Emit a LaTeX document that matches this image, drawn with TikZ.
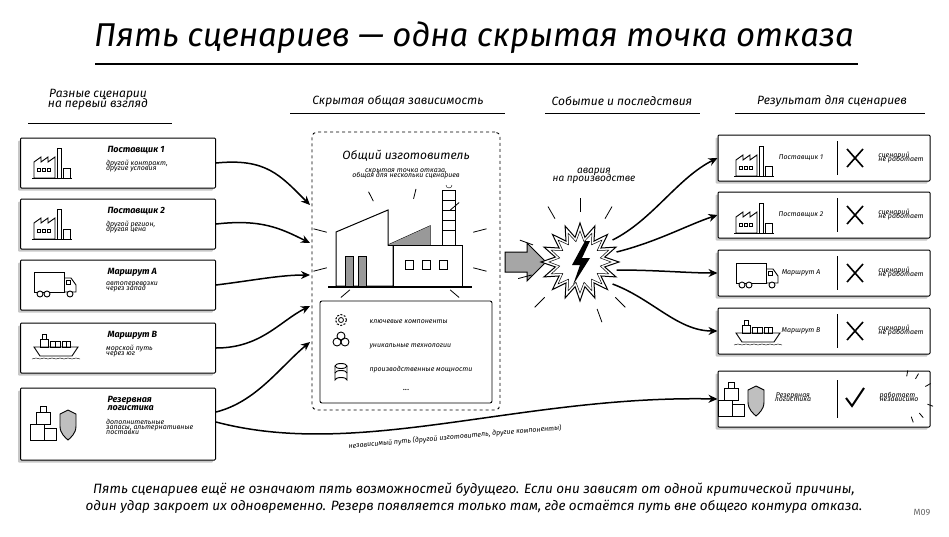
\documentclass[tikz,border=0pt]{standalone}
\usepackage{fontspec}
\setmainfont{Fira Sans}
\usetikzlibrary{arrows.meta,shapes.geometric,positioning,calc}

\tikzset{
  card/.style={draw,line width=1pt,fill=white,rounded corners=1pt,
    preaction={fill=black!22,transform canvas={xshift=-2.5pt,yshift=-2.5pt}}},
  head/.style={font=\itshape\large,align=center},
  uline/.style={line width=.9pt},
  flow/.style={-{Stealth[length=9pt,width=8pt]},line width=1.5pt},
  ico/.style={line width=.9pt},
  ray/.style={line width=.8pt},
  pics/factory/.style={code={
    \draw[ico] (0,30)--(0,14)--(7,9)--(7,14)--(14,9)--(14,14)--(21,9)--(21,30)--cycle;
    \draw[ico] (23,30) rectangle (27,0);
    \draw[ico] (29,30) rectangle (36,20);
    \foreach \x in {3,8,13} \draw (\x,20) rectangle ++(3,3);
    \draw[ico] (-2,30)--(38,30);
  }},
  pics/truck/.style={code={
    \draw[ico] (0,2) rectangle (30,22);
    \draw[ico] (30,8)--(37,8)--(42,15)--(42,22)--(30,22);
    \draw (32,10) rectangle (36,14);
    \foreach \x in {6,13,36} \draw[ico,fill=white] (\x,24) circle (3);
  }},
  pics/ship/.style={code={
    \draw[ico] (0,14)--(44,14)--(38,23)--(6,23)--cycle;
    \draw[ico] (6,14) rectangle (14,6) (8,6) rectangle (12,1);
    \draw[ico] (16,14) rectangle (26,8) (28,14) rectangle (36,8);
    \draw (21,8)--(21,14) (32,8)--(32,14);
    \draw (-2,26) sin (2,25) cos (6,26) sin (10,25) cos (14,26) sin (18,25) cos (22,26) sin (26,25) cos (30,26) sin (34,25) cos (38,26) sin (42,25) cos (46,26);
  }},
  pics/stock/.style={code={
    \draw[ico] (0,18) rectangle (14,34) (14,22) rectangle (26,34) (6,6) rectangle (20,18) (10,0) rectangle (16,6);
    \draw[ico,fill=black!25] (30,8)--(38,4)--(46,8)--(46,20) .. controls (46,28) and (40,32) .. (38,34) .. controls (36,32) and (30,28) .. (30,20)--cycle;
  }},
}

\begin{document}
\begin{tikzpicture}[x=1pt,y=-1pt]
  \useasboundingbox (0,0) rectangle (949,536);
  % title
  \node[font=\itshape\fontsize{33}{36}\selectfont] (title) at (474,38) {Пять сценариев — одна скрытая точка отказа};
  \draw[line width=1.4pt] (95,64)--(858,64);

  % column heads
  \node[head] (h1) at (98,100) {Разные сценарии\\[-4pt]на первый взгляд};
  \draw[uline] (28,123)--(172,123);
  \node[head] (h2) at (398,101) {Скрытая общая зависимость};
  \draw[uline] (290,113)--(505,113);
  \node[head] (h3) at (622,101) {Событие и последствия};
  \draw[uline] (545,113)--(700,113);
  \node[head] (h4) at (832,101) {Результат для сценариев};
  \draw[uline] (735,113)--(925,113);

  % left scenarios
  \foreach \n/\y/\ic/\t/\a/\b in {1/163/factory/Поставщик 1/{другой контракт,}/{другие условия},
      2/224/factory/Поставщик 2/{другой регион,}/{другая цена},
      3/285/truck/Маршрут A/автоперевозки/через запад,
      4/348/ship/Маршрут B/морской путь/через юг}{
    \node[card,minimum width=195pt,minimum height=50pt] (l\n) at (118,\y) {};
    \pic at (34,\y-15) {\ic};
    \node[anchor=west,font=\itshape\small\bfseries] at (104,\y-13) {\t};
    \node[anchor=north west,align=left,font=\itshape\scriptsize,inner sep=1pt] at (105,\y-4) {\a\\[-3pt]\b};
  }
  \node[card,minimum width=195pt,minimum height=72pt] (l5) at (118,424) {};
  \pic at (30,406) {stock};
  \node[anchor=west,align=left,font=\itshape\small\bfseries] at (104,403) {Резервная\\[-3pt]логистика};
  \node[anchor=north west,align=left,font=\itshape\scriptsize,inner sep=1pt] at (105,418) {дополнительные\\[-3pt]запасы, альтернативные\\[-3pt]поставки};

  % common manufacturer
  \node[draw,dashed,line width=.9pt,rounded corners=5pt,minimum width=188pt,minimum height=278pt] (common) at (406,271) {};
  \node[font=\itshape\large] (ctitle) at (406,156) {Общий изготовитель};
  \node[font=\itshape\scriptsize,align=center,below=0pt of ctitle] (csub) {скрытая точка отказа,\\[-3pt]общая для нескольки сценариев};
  \draw[line width=1pt,fill=white] (336,286)--(336,232)--(388,210)--(388,245)--(430,226)--(430,245)--(393,245)--(393,286)--cycle;
  \fill[black!40] (388,245)--(430,226)--(430,245)--cycle;
  \draw[line width=1pt] (393,245)--(393,286) (388,245)--(393,245);
  \draw[line width=1pt,fill=white] (393,245) rectangle (462,286);
  \draw[line width=1pt,fill=white] (442,190) rectangle (455,245);
  \foreach \yy in {200,210,220,230} \draw (442,\yy)--(455,\yy);
  \draw (446,185) arc (180:0:3);
  \foreach \x in {345,358} \draw[line width=.9pt,fill=black!40] (\x,256) rectangle ++(8,30);
  \foreach \x in {405,422,439} \draw[line width=.9pt] (\x,260) rectangle ++(8,9);
  \draw[line width=1.2pt] (328,287)--(472,287);
  \foreach \a in {20,50,130,160,200,340,250,280,310} \draw[ray] ($(400,250)+(\a:78 and 52)$)--($(400,250)+(\a:92 and 62)$);
  \node[draw,line width=.9pt,fill=white,rounded corners=2pt,minimum width=172pt,minimum height=102pt] (caps) at (406,352) {};
  \node[draw,line width=1pt,circle,dashed,dash pattern=on 2pt off 1.5pt,minimum size=11pt] (gear) at (341,320) {};
  \draw[line width=.8pt] (gear) circle (2.5);
  \foreach \p in {(337,342),(345,342),(341,336)} \draw[line width=.9pt] \p circle (4);
  \draw[line width=.9pt] (335,366)--(335,380) arc (180:360:6 and 2.5)--(347,366);
  \draw[line width=.9pt] (341,366) ellipse (6 and 2.5) (335,373) arc (180:360:6 and 2.5);
  \node[anchor=west,font=\itshape\scriptsize] at (366,322) {ключевые компоненты};
  \node[anchor=west,font=\itshape\scriptsize] at (366,346) {уникальные технологии};
  \node[anchor=west,font=\itshape\scriptsize] at (366,370) {производственные мощности};
  \node[font=\small] at (406,390) {...};

  % inputs
  \foreach \n/\y in {1/205,2/243,3/275,4/306,5/342} \coordinate (in\n) at (310,\y);
  \draw[flow] (l1.east) .. controls +(50,-5) and +(-30,-30) .. (in1);
  \draw[flow] (l2.east) .. controls +(45,-5) and +(-30,-15) .. (in2);
  \draw[flow] (l3.east) .. controls +(40,-5) and +(-30,0) .. (in3);
  \draw[flow] (l4.east) .. controls +(45,0) and +(-30,15) .. (in4);
  \draw[flow] (l5.east) ++(0,-12) .. controls +(40,-10) and +(-30,25) .. (in5);

  % event
  \draw[line width=1pt,fill=black!35] (505,252)--(527,252)--(527,243)--(546,262)--(527,281)--(527,272)--(505,272)--cycle;
  \node[star,star points=16,star point ratio=1.55,draw,line width=1pt,fill=white,minimum size=78pt] (burst) at (580,262) {};
  \node[star,star points=16,star point ratio=1.5,draw,line width=.5pt,minimum size=62pt] at (580,262) {};
  \fill (585,241)--(572,265)--(580,265)--(573,285)--(590,258)--(582,258)--(590,241)--cycle;
  \foreach \a in {45,70,135,165,200,240,270,300} \draw[ray] ($(580,262)+(\a:50)$)--($(580,262)+(\a:64)$);
  \node[font=\itshape\normalsize,align=center] (event) at (594,176) {авария\\[-4pt]на производстве};

  % results
  \foreach \n/\y/\ic/\t in {1/158/factory/Поставщик 1,2/215/factory/Поставщик 2,3/273/truck/Маршрут A,4/331/ship/Маршрут B}{
    \node[card,minimum width=212pt,minimum height=46pt] (r\n) at (824,\y) {};
    \begin{scope}[shift={(736,\y-12)},scale=.8]\pic {\ic};\end{scope}
    \node[font=\itshape\scriptsize] at (801,\y) {\t};
    \draw[line width=.8pt] (837,\y-17)--(837,\y+17);
    \draw[line width=1.6pt] (847,\y-9)--(863,\y+9) (847,\y+9)--(863,\y-9);
    \node[font=\itshape\scriptsize,align=left] at (901,\y) {сценарий\\[-4pt]не работает};
  }
  \node[card,minimum width=212pt,minimum height=56pt] (r5) at (824,399) {};
  \begin{scope}[shift={(718,382)},scale=.9]\pic {stock};\end{scope}
  \node[font=\itshape\scriptsize,align=center] at (793,397) {Резервная\\[-4pt]логистика};
  \draw[line width=.8pt] (837,380)--(837,418);
  \draw[line width=2pt] (846,398)--(852,406)--(864,388);
  \node[font=\itshape\scriptsize,align=left] at (899,397) {работает\\[-4pt]независимо};
  \foreach \a in {-80,-60,-30,20,50,70} \draw[ray] ($(902,397)+(\a:27 and 21)$)--($(902,397)+(\a:33 and 27)$);

  \draw[flow] (burst.east) ++(-8,-22) .. controls +(40,-20) and +(-40,20) .. (r1.west);
  \draw[flow] (burst.east) ++(-4,-10) .. controls +(40,-10) and +(-30,10) .. (r2.west);
  \draw[flow] (burst.east) ++(-4,8) .. controls +(40,0) and +(-30,0) .. (r3.west);
  \draw[flow] (burst.east) ++(-8,22) .. controls +(40,15) and +(-40,0) .. (r4.west);

  % independent path
  \draw[flow] (l5.east) ++(0,-2) .. controls (360,460) and (520,395) .. (r5.west);
  \node[font=\itshape\scriptsize,rotate=5] (indep) at (455,437) {независимый путь (другой изготовитель, другие компоненты)};

  % bottom note
  \node[font=\itshape\fontsize{13.5}{17}\selectfont,align=center] (note) at (474,498) {Пять сценариев ещё не означают пять возможностей будущего. Если они зависят от одной критической причины,\\один удар закроет их одновременно. Резерв появляется только там, где остаётся путь вне общего контура отказа.};
  \node[font=\small,text=black!60] (tag) at (922,512) {M09};
\end{tikzpicture}
\end{document}
